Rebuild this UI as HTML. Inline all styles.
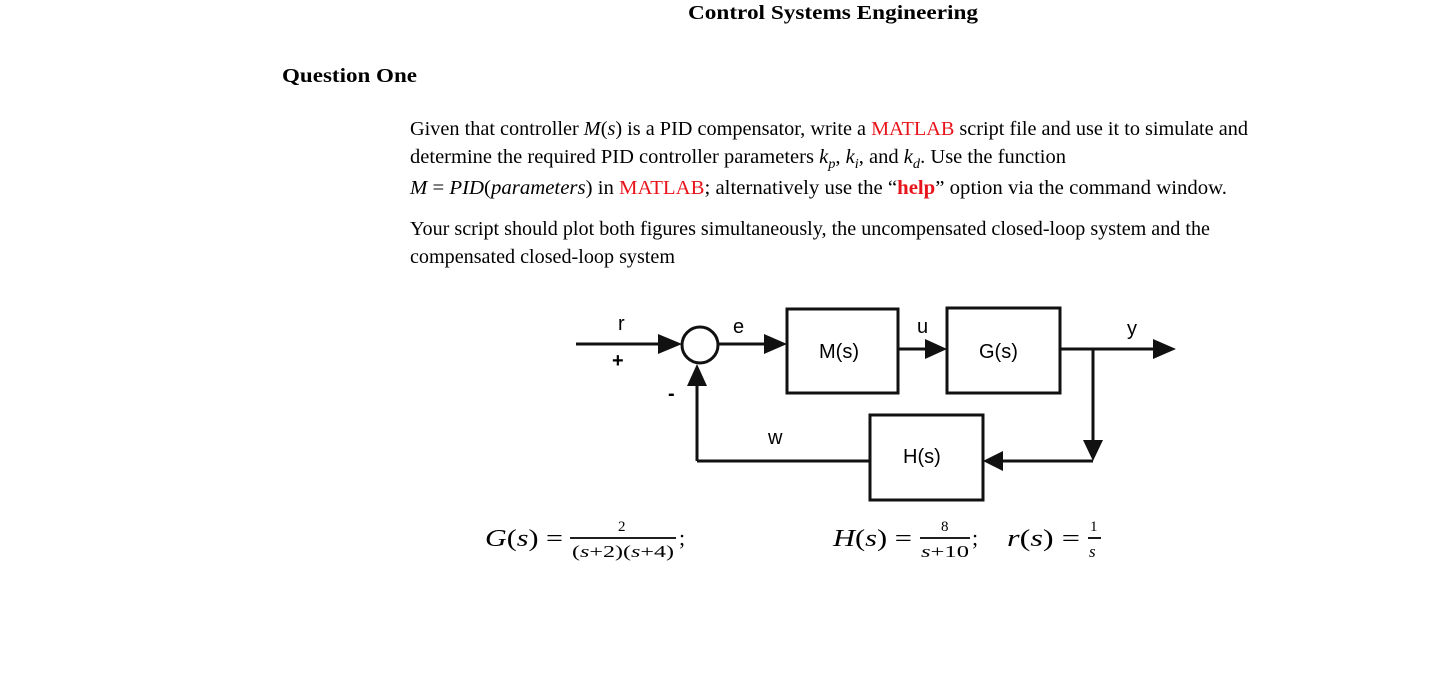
<!DOCTYPE html>
<html><head><style>
html,body{margin:0;padding:0;background:#fff;width:1442px;height:679px;overflow:hidden}
svg{display:block}
.s{font-family:"Liberation Serif",serif;font-size:20px;fill:#000}
.r{fill:#e8141b}
.a{font-family:"Liberation Sans",sans-serif;font-size:20px;fill:#000}
</style></head><body>
<svg width="1442" height="679" viewBox="0 0 1442 679">
<text class="s" x="688" y="19" font-weight="bold" font-size="21" textLength="290" lengthAdjust="spacingAndGlyphs">Control Systems Engineering</text>
<text class="s" x="282" y="82" font-weight="bold" font-size="20" textLength="135" lengthAdjust="spacingAndGlyphs">Question One</text>
<text class="s" x="410" y="135" textLength="838" lengthAdjust="spacingAndGlyphs">Given that controller <tspan font-style="italic">M</tspan>(<tspan font-style="italic">s</tspan>) is a PID compensator, write a <tspan class="r">MATLAB</tspan> script file and use it to simulate and</text>
<text class="s" x="410" y="163" textLength="656" lengthAdjust="spacingAndGlyphs">determine the required PID controller parameters <tspan font-style="italic">k</tspan><tspan font-style="italic" font-size="14" dy="5">p</tspan><tspan dy="-5">, </tspan><tspan font-style="italic">k</tspan><tspan font-style="italic" font-size="14" dy="5">i</tspan><tspan dy="-5">, and </tspan><tspan font-style="italic">k</tspan><tspan font-style="italic" font-size="14" dy="5">d</tspan><tspan dy="-5">. Use the function</tspan></text>
<text class="s" x="410" y="194" textLength="817" lengthAdjust="spacingAndGlyphs"><tspan font-style="italic">M</tspan> = <tspan font-style="italic">PID</tspan>(<tspan font-style="italic">parameters</tspan>) in <tspan class="r">MATLAB</tspan>; alternatively use the “<tspan class="r" font-weight="bold">help</tspan>” option via the command window.</text>
<text class="s" x="410" y="235" textLength="800" lengthAdjust="spacingAndGlyphs">Your script should plot both figures simultaneously, the uncompensated closed-loop system and the</text>
<text class="s" x="410" y="263" textLength="265" lengthAdjust="spacingAndGlyphs">compensated closed-loop system</text>

<g stroke="#111" stroke-width="3" fill="none">
<line x1="576" y1="344" x2="668" y2="344"/>
<circle cx="700" cy="345" r="18"/>
<line x1="718" y1="344" x2="768" y2="344"/>
<rect x="787" y="309" width="111" height="84"/>
<line x1="898" y1="349" x2="928" y2="349"/>
<rect x="947" y="308" width="113" height="85"/>
<line x1="1060" y1="349" x2="1156" y2="349"/>
<line x1="1093" y1="349" x2="1093" y2="442"/>
<line x1="1093" y1="461" x2="1002" y2="461"/>
<rect x="870" y="415" width="113" height="85"/>
<line x1="870" y1="461" x2="697" y2="461"/>
<line x1="697" y1="461" x2="697" y2="385"/>
</g>
<g fill="#111">
<polygon points="658,334 682,344 658,354"/>
<polygon points="764,334 787,344 764,354"/>
<polygon points="925,339 947,349 925,359"/>
<polygon points="1153,339 1176,349 1153,359"/>
<polygon points="1083,440 1103,440 1093,461"/>
<polygon points="1003,451 1003,471 983,461"/>
<polygon points="687,386 707,386 697,364"/>
</g>
<text class="a" x="618" y="330" font-size="20">r</text>
<text class="a" x="612" y="367" font-size="28" font-weight="bold">+</text>
<text class="a" x="668" y="400" font-size="26" font-weight="bold">-</text>
<text class="a" x="733" y="333">e</text>
<text class="a" x="917" y="333">u</text>
<text class="a" x="1127" y="335">y</text>
<text class="a" x="768" y="444">w</text>
<text class="a" x="819" y="358">M(s)</text>
<text class="a" x="979" y="358">G(s)</text>
<text class="a" x="903" y="463">H(s)</text>

<g font-family="'Liberation Serif',serif" fill="#000">
<text x="485" y="546" font-size="24" textLength="78" lengthAdjust="spacingAndGlyphs"><tspan font-style="italic">G</tspan>(<tspan font-style="italic">s</tspan>) =</text>
<text x="618" y="531" font-size="15">2</text>
<line x1="570" y1="538" x2="676" y2="538" stroke="#000" stroke-width="1.8"/>
<text x="572" y="557" font-size="17" textLength="102" lengthAdjust="spacingAndGlyphs">(<tspan font-style="italic">s</tspan>+2)(<tspan font-style="italic">s</tspan>+4)</text>
<text x="679" y="545" font-size="22">;</text>
<text x="833" y="546" font-size="24" textLength="79" lengthAdjust="spacingAndGlyphs"><tspan font-style="italic">H</tspan>(<tspan font-style="italic">s</tspan>) =</text>
<text x="941" y="531" font-size="15">8</text>
<line x1="920" y1="538" x2="970" y2="538" stroke="#000" stroke-width="1.8"/>
<text x="921" y="557" font-size="17" textLength="48" lengthAdjust="spacingAndGlyphs"><tspan font-style="italic">s</tspan>+10</text>
<text x="972" y="545" font-size="22">;</text>
<text x="1007" y="546" font-size="24" textLength="73" lengthAdjust="spacingAndGlyphs"><tspan font-style="italic">r</tspan>(<tspan font-style="italic">s</tspan>) =</text>
<text x="1090" y="531" font-size="15">1</text>
<line x1="1088" y1="538" x2="1101" y2="538" stroke="#000" stroke-width="1.8"/>
<text x="1089" y="557" font-size="17" font-style="italic">s</text>
</g>
</svg>
</body></html>
